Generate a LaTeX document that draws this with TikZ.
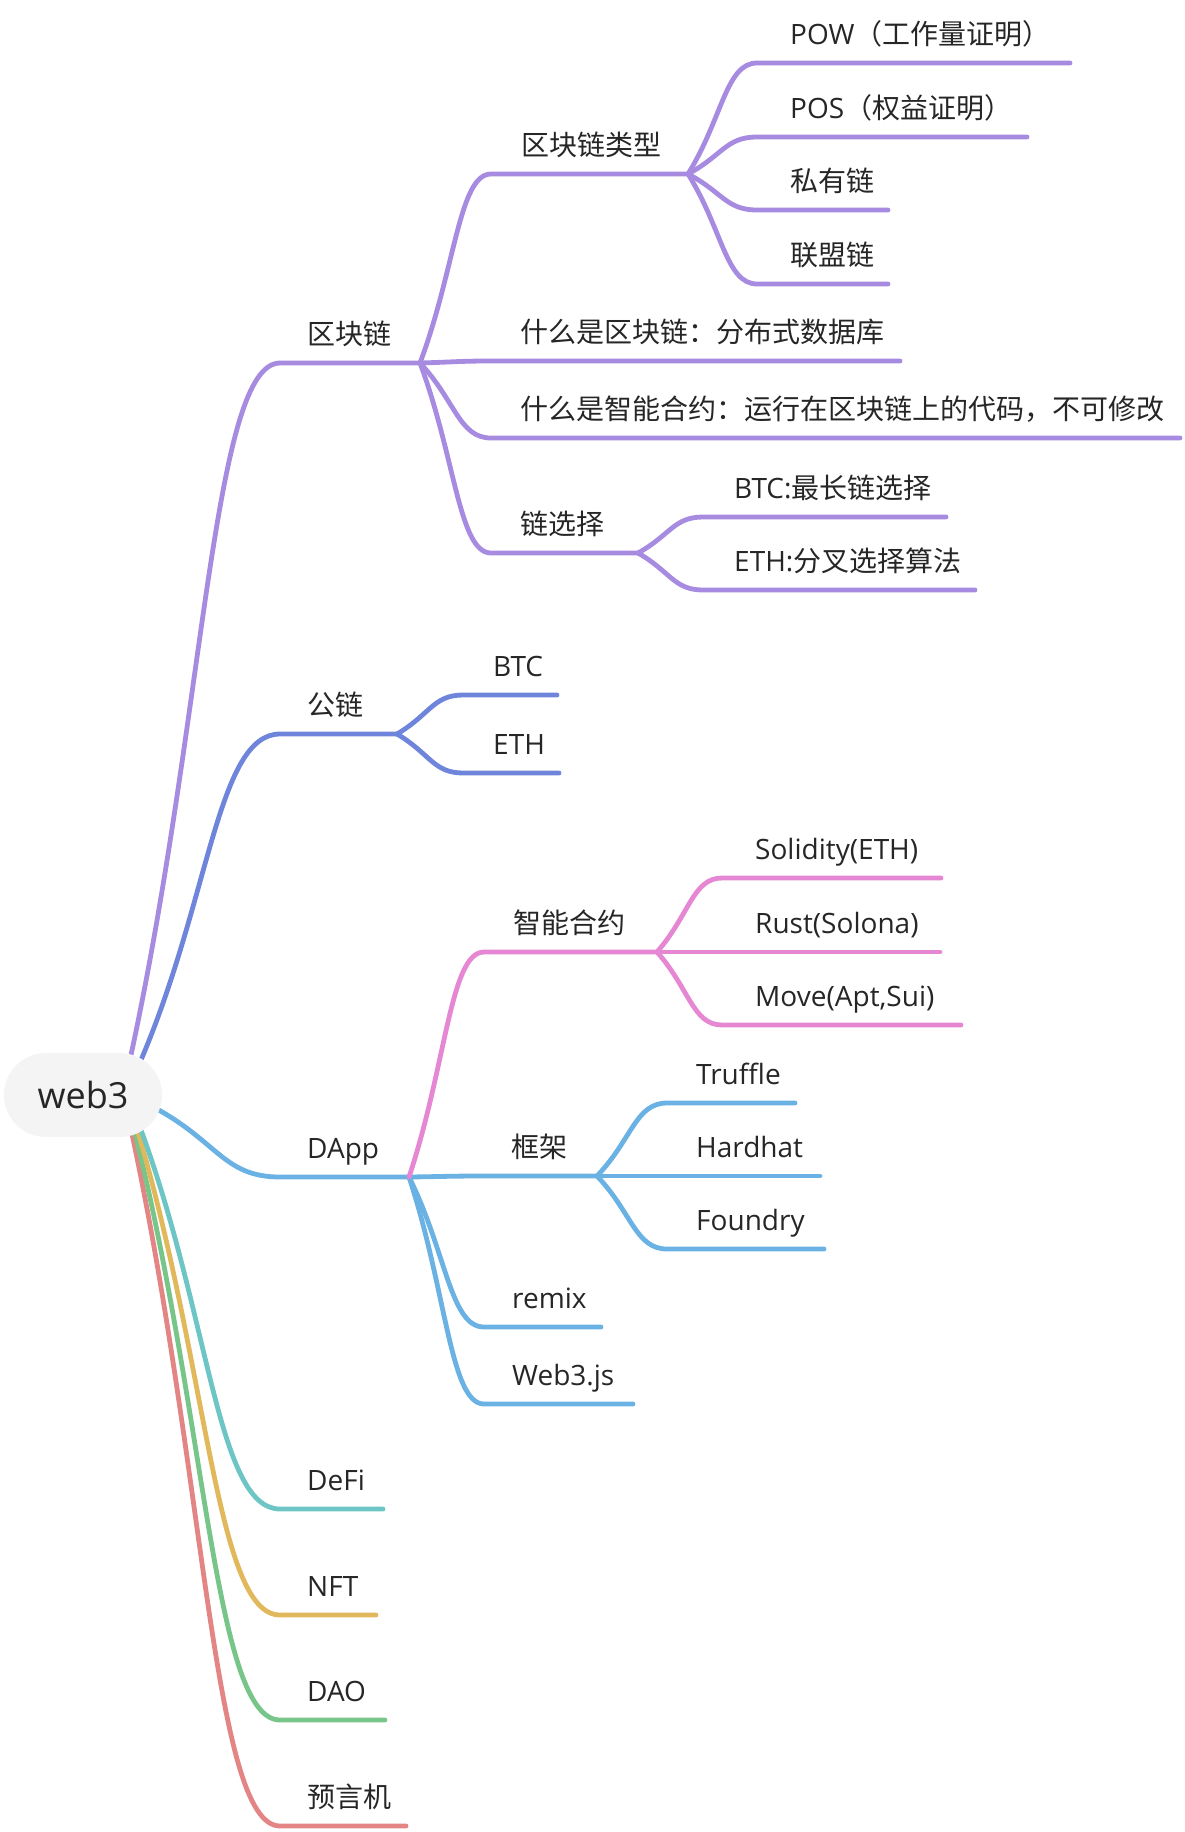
\documentclass[tikz,border=0pt]{standalone}
\usepackage{fontspec}
\setmainfont{Open Sans}
\newfontfamily\cjk{Noto Sans CJK SC}
\usetikzlibrary{calc}
\pgfdeclarelayer{bg}
\pgfsetlayers{bg,main}
\definecolor{cPurple}{RGB}{166,139,224}
\definecolor{cIndigo}{RGB}{111,132,219}
\definecolor{cSky}{RGB}{106,177,228}
\definecolor{cPink}{RGB}{230,135,211}
\definecolor{cTeal}{RGB}{110,197,197}
\definecolor{cYellow}{RGB}{226,184,92}
\definecolor{cGreen}{RGB}{120,197,137}
\definecolor{cRed}{RGB}{228,133,133}
\definecolor{rootfill}{RGB}{244,244,244}
\definecolor{txt}{RGB}{38,38,38}
\begin{document}
\begin{tikzpicture}[x=1pt,y=-1pt,
  conn/.style={line width=4.8pt, line cap=round, line join=round},
  branch/.style={to path={let \p1=(\tikztostart), \p2=(\tikztotarget) in
     .. controls ({0.5*\x1+0.5*\x2},{0.5*\y1+0.5*\y2}) and ({0.45*\x1+0.55*\x2},\y2) .. (\tikztotarget)}},
  topic/.style={anchor=base west, inner sep=0pt, text=txt, font=\fontsize{28}{34}\selectfont},
  rootbox/.style={fill=rootfill, rounded corners=42pt, minimum width=158pt, minimum height=84pt,
     inner sep=0pt, text=txt, font=\fontsize{36}{42}\selectfont}]
\useasboundingbox (0,0) rectangle (1184,1832);

% root
\node[rootbox] (root) at (83,1095) {web3};
\coordinate (s1) at ($(root.center)+(48,-40)$);
\coordinate (s2) at ($(root.center)+(58,-35)$);
\coordinate (s3) at ($(root.center)+(74,14)$);
\coordinate (s4) at ($(root.center)+(58,35)$);
\coordinate (s5) at ($(root.center)+(55,37)$);
\coordinate (s6) at ($(root.center)+(52,38)$);
\coordinate (s7) at ($(root.center)+(49,39)$);

% level 1 underline coordinates
\coordinate (aS) at (280,363);  \coordinate (aJ) at (420,363);
\coordinate (bS) at (280,734);  \coordinate (bJ) at (397,734);
\coordinate (cS) at (280,1177); \coordinate (cJ) at (409,1177);
\coordinate (dS) at (280,1509); \coordinate (dE) at (383,1509);
\coordinate (eS) at (280,1615); \coordinate (eE) at (376,1615);
\coordinate (fS) at (280,1720); \coordinate (fE) at (385,1720);
\coordinate (gS) at (280,1826); \coordinate (gE) at (406,1826);

% level 2/3 coordinates
\coordinate (a1S) at (491,174);  \coordinate (a1J) at (688,174);
\coordinate (a2S) at (491,361);  \coordinate (a2E) at (900,361);
\coordinate (a3S) at (491,438);  \coordinate (a3E) at (1180,438);
\coordinate (a4S) at (491,553);  \coordinate (a4J) at (638,553);
\coordinate (a11S) at (757,63);  \coordinate (a11E) at (1070,63);
\coordinate (a12S) at (757,137); \coordinate (a12E) at (1027,137);
\coordinate (a13S) at (757,210); \coordinate (a13E) at (888,210);
\coordinate (a14S) at (757,284); \coordinate (a14E) at (888,284);
\coordinate (a41S) at (703,517); \coordinate (a41E) at (946,517);
\coordinate (a42S) at (703,590); \coordinate (a42E) at (975,590);
\coordinate (b1S) at (463,695);  \coordinate (b1E) at (557,695);
\coordinate (b2S) at (463,773);  \coordinate (b2E) at (559,773);
\coordinate (c1S) at (484,952);  \coordinate (c1J) at (657,952);
\coordinate (c2S) at (484,1176); \coordinate (c2J) at (597,1176);
\coordinate (c3S) at (484,1327); \coordinate (c3E) at (601,1327);
\coordinate (c4S) at (484,1404); \coordinate (c4E) at (633,1404);
\coordinate (c11S) at (722,878); \coordinate (c11E) at (941,878);
\coordinate (c12S) at (722,952); \coordinate (c12E) at (940,952);
\coordinate (c13S) at (722,1025); \coordinate (c13E) at (961,1025);
\coordinate (c21S) at (667,1103); \coordinate (c21E) at (795,1103);
\coordinate (c22S) at (667,1176); \coordinate (c22E) at (820,1176);
\coordinate (c23S) at (667,1249); \coordinate (c23E) at (824,1249);

% labels
\node[topic] (tA) at (307,344) {\cjk 区块链};
\node[topic] (tB) at (307,715) {\cjk 公链};
\node[topic] (tC) at (307,1158) {DApp};
\node[topic] (tD) at (307,1490) {DeFi};
\node[topic] (tE) at (307,1596) {NFT};
\node[topic] (tF) at (307,1701) {DAO};
\node[topic] (tG) at (307,1807) {\cjk 预言机};
\node[topic] (tA1) at (521,155) {\cjk 区块链类型};
\node[topic] (tA2) at (520,342) {\cjk 什么是区块链：分布式数据库};
\node[topic] (tA3) at (520,419) {\cjk 什么是智能合约：运行在区块链上的代码，不可修改};
\node[topic] (tA4) at (520,534) {\cjk 链选择};
\node[topic] (tA11) at (790,44) {POW{\cjk （工作量证明）}};
\node[topic] (tA12) at (790,118) {POS{\cjk （权益证明）}};
\node[topic] (tA13) at (790,191) {\cjk 私有链};
\node[topic] (tA14) at (790,265) {\cjk 联盟链};
\node[topic] (tA41) at (734,498) {BTC:{\cjk 最长链选择}};
\node[topic] (tA42) at (734,571) {ETH:{\cjk 分叉选择算法}};
\node[topic] (tB1) at (493,676) {BTC};
\node[topic] (tB2) at (493,754) {ETH};
\node[topic] (tC1) at (513,933) {\cjk 智能合约};
\node[topic] (tC2) at (511,1157) {\cjk 框架};
\node[topic] (tC3) at (512,1308) {remix};
\node[topic] (tC4) at (512,1385) {Web3.js};
\node[topic] (tC11) at (755,859) {Solidity(ETH)};
\node[topic] (tC12) at (755,933) {Rust(Solona)};
\node[topic] (tC13) at (755,1006) {Move(Apt,Sui)};
\node[topic] (tC21) at (696,1084) {Truffle};
\node[topic] (tC22) at (696,1157) {Hardhat};
\node[topic] (tC23) at (696,1230) {Foundry};

\begin{pgfonlayer}{bg}
% level 1
\draw[conn, cPurple] (s1) to[branch] (aS) -- (aJ);
\draw[conn, cIndigo] (s2) to[branch] (bS) -- (bJ);
\draw[conn, cSky] (s3) to[branch] (cS) -- (cJ);
\draw[conn, cRed] (s7) to[branch] (gS) -- (gE);
\draw[conn, cGreen] (s6) to[branch] (fS) -- (fE);
\draw[conn, cYellow] (s5) to[branch] (eS) -- (eE);
\draw[conn, cTeal] (s4) to[branch] (dS) -- (dE);
% 区块链
\draw[conn, cPurple] (aJ) to[branch] (a1S) -- (a1J);
\draw[conn, cPurple] (aJ) to[branch] (a2S) -- (a2E);
\draw[conn, cPurple] (aJ) to[branch] (a3S) -- (a3E);
\draw[conn, cPurple] (aJ) to[branch] (a4S) -- (a4J);
\draw[conn, cPurple] (a1J) to[branch] (a11S) -- (a11E);
\draw[conn, cPurple] (a1J) to[branch] (a12S) -- (a12E);
\draw[conn, cPurple] (a1J) to[branch] (a13S) -- (a13E);
\draw[conn, cPurple] (a1J) to[branch] (a14S) -- (a14E);
\draw[conn, cPurple] (a4J) to[branch] (a41S) -- (a41E);
\draw[conn, cPurple] (a4J) to[branch] (a42S) -- (a42E);
% 公链
\draw[conn, cIndigo] (bJ) to[branch] (b1S) -- (b1E);
\draw[conn, cIndigo] (bJ) to[branch] (b2S) -- (b2E);
% DApp
\draw[conn, cSky] (cJ) to[branch] (c4S) -- (c4E);
\draw[conn, cSky] (cJ) to[branch] (c3S) -- (c3E);
\draw[conn, cSky] (cJ) to[branch] (c2S) -- (c2J);
\draw[conn, cSky] (c2J) to[branch] (c21S) -- (c21E);
\draw[conn, cSky] (c2J) to[branch] (c22S) -- (c22E);
\draw[conn, cSky] (c2J) to[branch] (c23S) -- (c23E);
\draw[conn, cPink] (cJ) to[branch] (c1S) -- (c1J);
\draw[conn, cPink] (c1J) to[branch] (c11S) -- (c11E);
\draw[conn, cPink] (c1J) to[branch] (c12S) -- (c12E);
\draw[conn, cPink] (c1J) to[branch] (c13S) -- (c13E);
\end{pgfonlayer}
\end{tikzpicture}
\end{document}
